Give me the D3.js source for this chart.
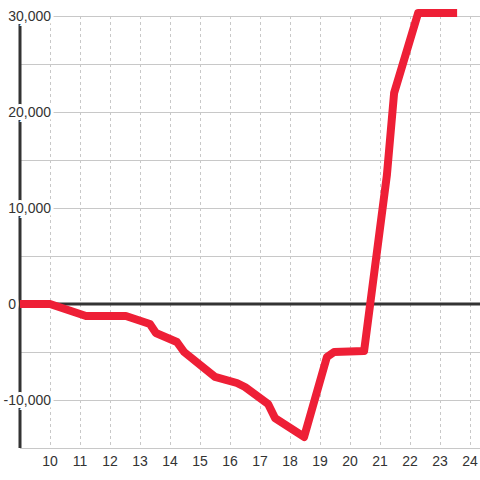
<!DOCTYPE html>
<html>
<head>
<meta charset="utf-8">
<script src="https://cdn.jsdelivr.net/npm/d3@7"></script>
<style>
  body { margin: 0; background: #fff; }
  svg { display: block; }
  text { font-family: "Liberation Sans", Arial, sans-serif; font-size: 14px; fill: #333; }
</style>
</head>
<body>
<div id="chart"></div>
<script>
// data
var xVals = [9, 10, 11.2, 12.53, 13.33, 13.53, 14.23, 14.47, 15.5, 16.23, 16.5, 17.27, 17.5, 18.47,
             19.23, 19.47, 20.47, 21.23, 21.47, 22.27, 23.57];
var yVals = [0, 0, -1250, -1250, -2080, -3020, -3960, -5000, -7600, -8230, -8650, -10420, -11880, -13850,
             -5520, -5000, -4900, 13440, 21980, 30300, 30300];
var xTicks = [10, 11, 12, 13, 14, 15, 16, 17, 18, 19, 20, 21, 22, 23, 24];
var yGrid = [30000, 25000, 20000, 15000, 10000, 5000, 0, -5000, -10000, -15000];
var yLabels = [30000, 20000, 10000, 0, -10000];

var width = 480, height = 480;
var svg = d3.select("#chart").append("svg").attr("width", width).attr("height", height);

var x = d3.scaleLinear().domain([9, 24.333]).range([20, 480]);
var y = d3.scaleLinear().domain([-15000, 30000]).range([448, 16]);

// vertical dashed grid
svg.append("g").selectAll("line").data(xTicks).enter().append("line")
  .attr("x1", function (d) { return x(d) + 0.5; })
  .attr("x2", function (d) { return x(d) + 0.5; })
  .attr("y1", y(30000)).attr("y2", y(-15000))
  .attr("stroke", "#c8c8c8").attr("stroke-dasharray", "3,3");

// horizontal grid
svg.append("g").selectAll("line").data(yGrid).enter().append("line")
  .attr("x1", x(9)).attr("x2", width)
  .attr("y1", function (d) { return Math.round(y(d)) + 0.5; })
  .attr("y2", function (d) { return Math.round(y(d)) + 0.5; })
  .attr("stroke", "#c8c8c8");

// y axis line
svg.append("line")
  .attr("x1", x(9)).attr("x2", x(9))
  .attr("y1", y(30000)).attr("y2", y(-15000))
  .attr("stroke", "#333").attr("stroke-width", 3);

// y labels with white halo over the axis
svg.append("g").selectAll("text").data(yLabels).enter().append("text")
  .attr("x", function (d) { return d === 0 ? 16 : 51; })
  .attr("y", function (d) { return y(d); })
  .attr("dy", "0.36em")
  .attr("text-anchor", "end")
  .attr("stroke", "#fff").attr("stroke-width", 6).attr("paint-order", "stroke")
  .text(function (d) { return d3.format(",")(d).replace("−", "-"); });

// x labels
svg.append("g").selectAll("text").data(xTicks).enter().append("text")
  .attr("x", function (d) { return x(d); })
  .attr("y", 466)
  .attr("text-anchor", "middle")
  .text(function (d) { return d; });

// zero line
svg.append("line")
  .attr("x1", x(9)).attr("x2", width)
  .attr("y1", y(0)).attr("y2", y(0))
  .attr("stroke", "#333").attr("stroke-width", 3);

// the series
var pts = xVals.map(function (d, i) { return [d, yVals[i]]; });
var line = d3.line()
  .x(function (d) { return x(d[0]); })
  .y(function (d) { return y(d[1]); });

svg.append("path")
  .datum(pts)
  .attr("d", line)
  .attr("fill", "none")
  .attr("stroke", "#ee1f36")
  .attr("stroke-width", 8)
  .attr("stroke-linejoin", "round");
</script>
</body>
</html>
